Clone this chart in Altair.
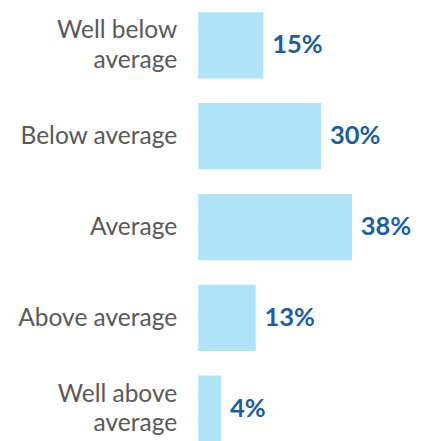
import altair as alt
import pandas as pd

categories = ["Well below\naverage", "Below average", "Average", "Above average", "Well above\naverage"]
values = [15, 30, 38, 13, 4]
labels = ["15%", "30%", "38%", "13%", "4%"]

df = pd.DataFrame({"category": categories, "value": values, "label": labels})

y_enc = alt.Y(
    "category:N",
    sort=categories,
    title=None,
    scale=alt.Scale(paddingInner=0.27, paddingOuter=0, range=[0, 438.2]),
    axis=alt.Axis(
        labelExpr="split(datum.label, '\\n')",
        labelFont="Lato",
        labelFontSize=25,
        labelColor="#595959",
        labelLineHeight=30,
        labelPadding=22,
        labelLimit=0,
        labelOffset={"condition": {"test": "indexof(datum.value, '\\n') >= 0", "value": -15}, "value": 0},
        ticks=False,
        domain=False,
        grid=False,
        minExtent=194,
        maxExtent=194,
    ),
)
x_scale = alt.Scale(domain=[-1.94, 53.88], nice=False, zero=False)
x_enc = alt.X("value:Q", axis=None, scale=x_scale, stack=None)

bars = alt.Chart(df).mark_bar(color="#aee4f5").encode(x=x_enc, x2=alt.value(0), y=y_enc)
text = alt.Chart(df).mark_text(
    align="left", baseline="middle", dx=9, font="Lato", fontSize=26,
    fontWeight="bold", color="#1b5e9e"
).encode(x=x_enc, y=y_enc, text="label:N")

chart = (bars + text).properties(
    width=219, height=433,
    autosize=alt.AutoSizeParams(type="none"),
    padding={"left": 194, "top": 0, "right": 0, "bottom": 0},
).configure_view(strokeWidth=0)

chart.save("out.html", embed_options={"renderer": "svg", "actions": False})
